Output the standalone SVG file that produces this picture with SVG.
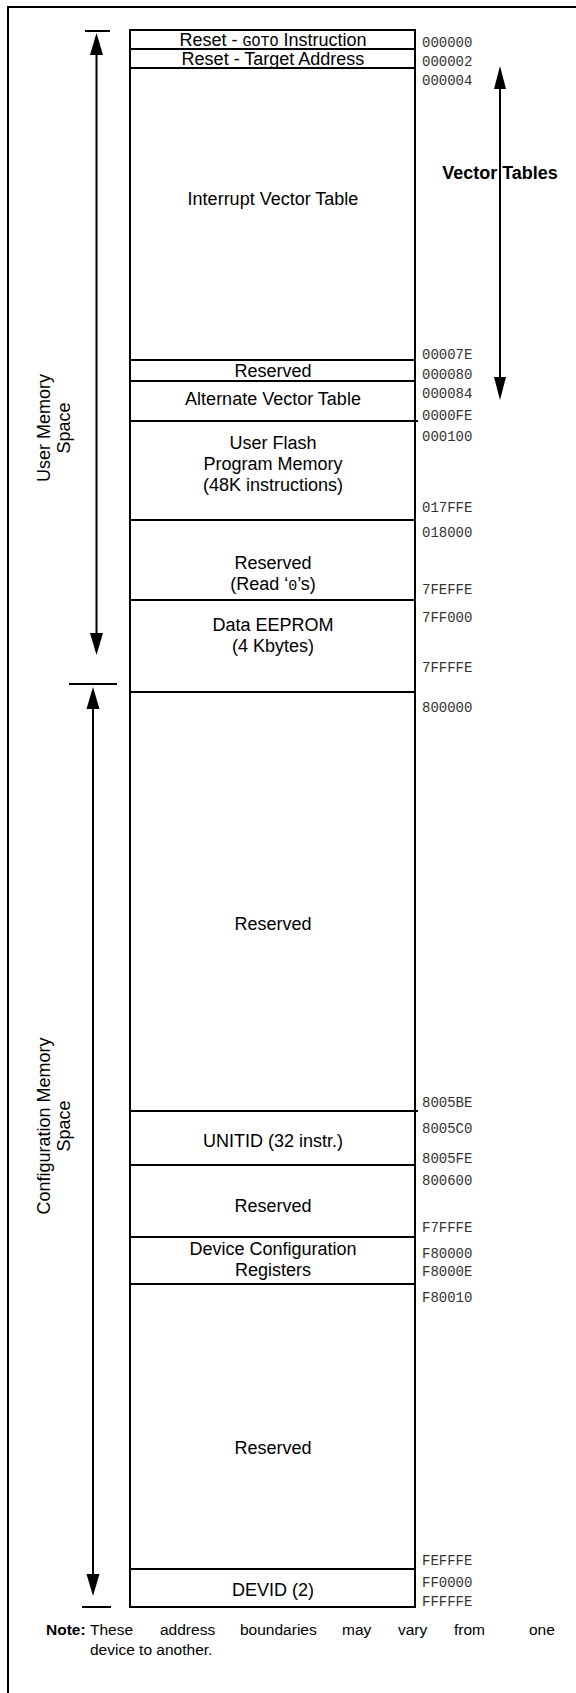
<svg xmlns="http://www.w3.org/2000/svg" width="576" height="1693" viewBox="0 0 576 1693">
<style>
.lbl{font-family:"Liberation Sans",Arial,sans-serif;font-size:18px;fill:#000;text-anchor:middle}
.mono{font-family:"Liberation Mono","Courier New",monospace;font-size:14px;fill:#333}
.tt{font-family:"Liberation Mono","Courier New",monospace;font-size:15px}
.ln{stroke:#000;stroke-width:2;fill:none}
.ah{fill:#000}
.b{font-weight:bold}
.nt{font-family:"Liberation Sans",Arial,sans-serif;font-size:15.5px;fill:#000}
</style>
<rect width="576" height="1693" fill="#fff"/>
<g id="frame">
<path class="ln" d="M8,1693 V7 H576"/>
</g>
<g id="memory-map">
<rect class="ln" x="130" y="30" width="285" height="1577"/>
</g>
<g id="n-reset-goto"><line class="ln" x1="130" y1="49" x2="415" y2="49"/><text class="lbl" x="273" y="45.5">Reset - <tspan class="tt">GOTO</tspan> Instruction</text></g>
<g id="n-reset-target"><line class="ln" x1="130" y1="68" x2="415" y2="68"/><text class="lbl" x="273" y="64.5">Reset - Target Address</text></g>
<g id="n-ivt"><text class="lbl" x="273" y="205">Interrupt Vector Table</text></g>
<g id="n-reserved1"><line class="ln" x1="130" y1="360" x2="415" y2="360"/><text class="lbl" x="273" y="377">Reserved</text></g>
<g id="n-avt"><line class="ln" x1="130" y1="381" x2="415" y2="381"/><text class="lbl" x="273" y="405">Alternate Vector Table</text></g>
<g id="n-flash"><line class="ln" x1="130" y1="421" x2="418" y2="421"/><text class="lbl" x="273" y="449">User Flash</text><text class="lbl" x="273" y="470">Program Memory</text><text class="lbl" x="273" y="491">(48K instructions)</text></g>
<g id="n-reserved2"><line class="ln" x1="130" y1="520" x2="415" y2="520"/><text class="lbl" x="273" y="569">Reserved</text><text class="lbl" x="273" y="590">(Read ‘<tspan class="tt">0</tspan>’s)</text></g>
<g id="n-eeprom"><line class="ln" x1="130" y1="600" x2="415" y2="600"/><text class="lbl" x="273" y="631">Data EEPROM</text><text class="lbl" x="273" y="652">(4 Kbytes)</text></g>
<g id="n-reserved3"><line class="ln" x1="130" y1="692" x2="415" y2="692"/><text class="lbl" x="273" y="930">Reserved</text></g>
<g id="n-unitid"><line class="ln" x1="130" y1="1111" x2="418" y2="1111"/><text class="lbl" x="273" y="1147">UNITID (32 instr.)</text></g>
<g id="n-reserved4"><line class="ln" x1="130" y1="1165" x2="415" y2="1165"/><text class="lbl" x="273" y="1212">Reserved</text></g>
<g id="n-devcfg"><line class="ln" x1="130" y1="1237" x2="415" y2="1237"/><text class="lbl" x="273" y="1255">Device Configuration</text><text class="lbl" x="273" y="1276">Registers</text></g>
<g id="n-reserved5"><line class="ln" x1="130" y1="1284" x2="415" y2="1284"/><text class="lbl" x="273" y="1454">Reserved</text></g>
<g id="n-devid"><line class="ln" x1="130" y1="1569" x2="415" y2="1569"/><text class="lbl" x="273" y="1596">DEVID (2)</text></g>
<g id="addresses" class="mono">
<text x="422" y="47">000000</text>
<text x="422" y="66">000002</text>
<text x="422" y="85">000004</text>
<text x="422" y="359">00007E</text>
<text x="422" y="379">000080</text>
<text x="422" y="398">000084</text>
<text x="422" y="420">0000FE</text>
<text x="422" y="441">000100</text>
<text x="422" y="512">017FFE</text>
<text x="422" y="537">018000</text>
<text x="422" y="594">7FEFFE</text>
<text x="422" y="622">7FF000</text>
<text x="422" y="672">7FFFFE</text>
<text x="422" y="712">800000</text>
<text x="422" y="1107">8005BE</text>
<text x="422" y="1133">8005C0</text>
<text x="422" y="1163">8005FE</text>
<text x="422" y="1185">800600</text>
<text x="422" y="1232">F7FFFE</text>
<text x="422" y="1258">F80000</text>
<text x="422" y="1276">F8000E</text>
<text x="422" y="1302">F80010</text>
<text x="422" y="1565">FEFFFE</text>
<text x="422" y="1587">FF0000</text>
<text x="422" y="1606">FFFFFE</text>
</g>
<g id="user-space-label"><text class="lbl" transform="translate(50,428) rotate(-90)">User Memory</text><text class="lbl" transform="translate(70,428) rotate(-90)">Space</text></g>
<g id="config-space-label"><text class="lbl" transform="translate(50,1126) rotate(-90)">Configuration Memory</text><text class="lbl" transform="translate(70,1126) rotate(-90)">Space</text></g>
<g id="vector-label"><text class="lbl b" x="500" y="179">Vector Tables</text></g>
<g id="connectors">
<line class="ln" x1="85" y1="31" x2="110" y2="31"/>
<line class="ln" x1="69" y1="684" x2="117" y2="684"/>
<line class="ln" x1="82" y1="1607" x2="111" y2="1607"/>
<line class="ln" x1="96.5" y1="50" x2="96.5" y2="640"/>
<polygon class="ah" points="96.5,33 90,55 103,55"/>
<polygon class="ah" points="96.5,655 90,633 103,633"/>
<line class="ln" x1="93" y1="700" x2="93" y2="1580"/>
<polygon class="ah" points="93,687 86.5,709 99.5,709"/>
<polygon class="ah" points="93,1596 86.5,1574 99.5,1574"/>
<line class="ln" x1="500" y1="80" x2="500" y2="385"/>
<polygon class="ah" points="500,66 494,89 506,89"/>
<polygon class="ah" points="500,400 494,377 506,377"/>
</g>
<g id="note">
<text class="nt b" x="46" y="1635">Note:</text>
<text class="nt" x="90" y="1635">These</text>
<text class="nt" x="160" y="1635">address</text>
<text class="nt" x="240" y="1635">boundaries</text>
<text class="nt" x="342" y="1635">may</text>
<text class="nt" x="398" y="1635">vary</text>
<text class="nt" x="454" y="1635">from</text>
<text class="nt" x="529" y="1635">one</text>
<text class="nt" x="90" y="1655">device to another.</text>
</g>
</svg>
